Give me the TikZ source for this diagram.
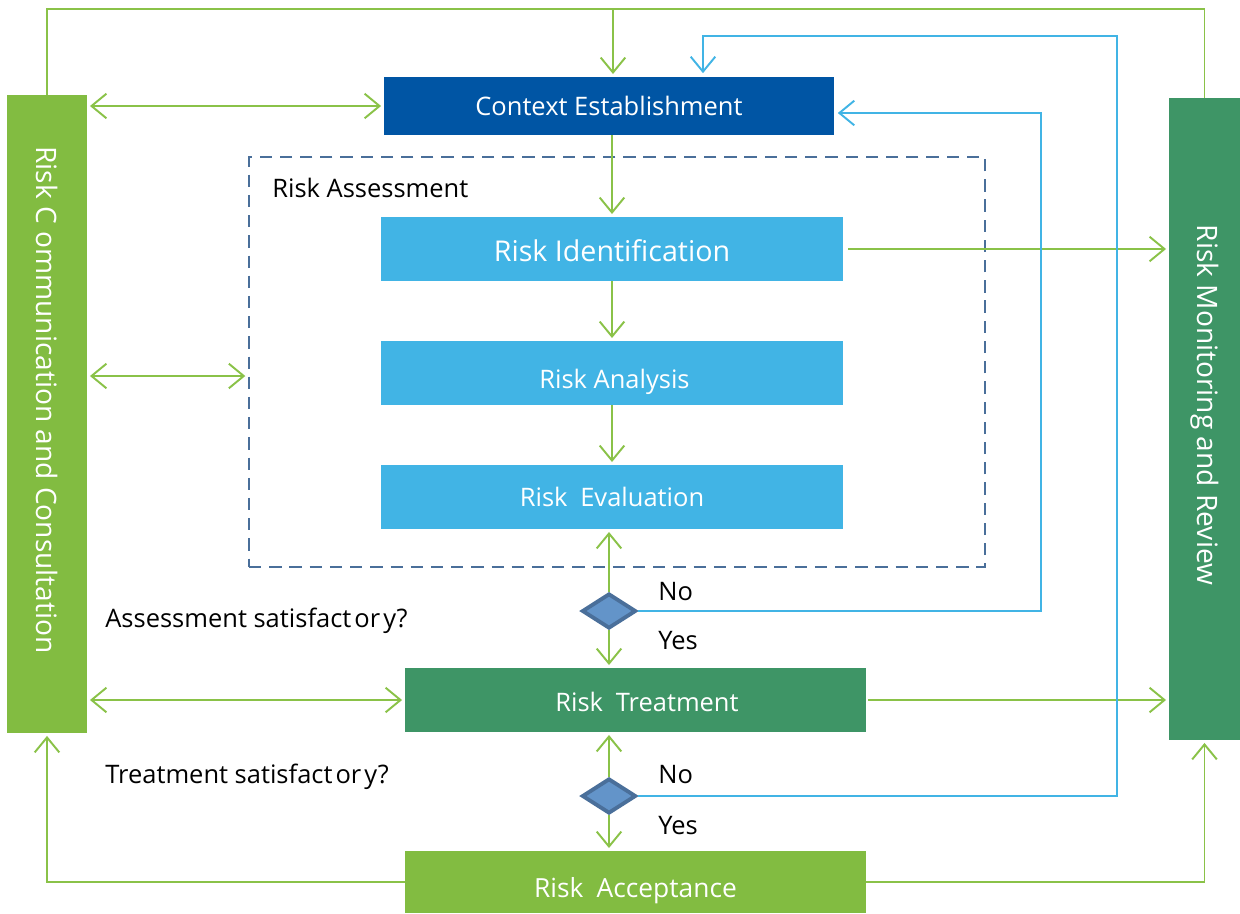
\documentclass[tikz,border=0pt]{standalone}
\usepackage{fontspec}
\setmainfont{Open Sans}
\usepackage{tikz}
\usepackage{xcolor}
\usetikzlibrary{arrows.meta,shapes.geometric}

\definecolor{riskgreen}{HTML}{82BC41}
\definecolor{linegreen}{HTML}{8AC248}
\definecolor{darkgreen}{HTML}{3E9566}
\definecolor{ctxblue}{HTML}{0055A4}
\definecolor{lightblue}{HTML}{41B4E5}
\definecolor{dashblue}{HTML}{4A6F9A}
\definecolor{decfill}{HTML}{6394C9}

\begin{document}
\begin{tikzpicture}[x=0.02cm,y=-0.02cm,
    box/.style={inner sep=0pt,text=white,text depth=0pt,text height=10.35pt,font=\fontsize{14.5}{17}\selectfont},
    sidetext/.style={inner sep=0pt,text=white,rotate=-90,font=\fontsize{16}{19}\selectfont},
    note/.style={anchor=west,inner sep=0pt,font=\fontsize{14.5}{17}\selectfont},
    wire/.style={linegreen,line width=1.1pt},
    flow/.style={wire,shorten >=1.5pt,-{Straight Barb[length=8.5pt,width=14pt]}},
    both/.style={flow,shorten <=1.5pt,{Straight Barb[length=8.5pt,width=14pt]}-{Straight Barb[length=8.5pt,width=14pt]}},
    back/.style={lightblue,line width=1.1pt,shorten >=2pt,-{Straight Barb[length=8.5pt,width=14pt]}},
    decision/.style={diamond,draw=dashblue,fill=decfill,line width=2.2pt,inner sep=0pt,minimum width=1.08cm,minimum height=0.7cm}]
        \useasboundingbox (0,0) rectangle (1240,913);
        % side bars
        \node (comm) at (47,414) [box,fill=riskgreen,minimum width=1.6cm,minimum height=12.76cm] {};
        \node (commtext) at (47,400) [sidetext] {Risk C ommunication and Consultation};
        \node (monitor) at (1204.5,419) [box,fill=darkgreen,minimum width=1.42cm,minimum height=12.84cm] {};
        \node (montext) at (1205,405) [sidetext] {Risk Monitoring and Review};
        % assessment frame
        \node (assess) at (617,362) [draw=dashblue,line width=1.3pt,dash pattern=on 7pt off 4.5pt,minimum width=14.72cm,minimum height=8.2cm] {};
        \node (assesstext) at (272,188) [note] {Risk Assessment};
        % process boxes
        \node (context) at (609,106) [box,fill=ctxblue,minimum width=9cm,minimum height=1.16cm] {Context Establishment};
        \node (ident) at (612,249) [box,fill=lightblue,minimum width=9.24cm,minimum height=1.28cm,font=\fontsize{16.3}{19}\selectfont,text height=13.8pt] {Risk Identification};
        \node (analysis) at (612,373) [box,fill=lightblue,minimum width=9.24cm,minimum height=1.28cm,text height=17.75pt] {\hspace{0.1cm}Risk Analysis};
        \node (evaluation) at (612,497) [box,fill=lightblue,minimum width=9.24cm,minimum height=1.28cm] {Risk\hspace{0.5em}Evaluation};
        \node (treatment) at (635.5,700) [box,fill=darkgreen,minimum width=9.22cm,minimum height=1.28cm,text height=13.15pt] {\hspace{0.46cm}Risk\hspace{0.5em}Treatment};
        \node (acceptance) at (635.5,882) [box,fill=riskgreen,minimum width=9.22cm,minimum height=1.24cm,font=\fontsize{15}{18}\selectfont,text height=18.1pt] {Risk\hspace{0.5em}Acceptance\hspace{0.1cm}};
        % decisions
        \node (d1) at (609,611) [decision] {};
        \node (d2) at (609,796) [decision] {};
        \node (no1) at (658,592) [note] {No};
        \node (yes1) at (658,641) [note] {Yes};
        \node (no2) at (658,775) [note] {No};
        \node (yes2) at (658,826) [note] {Yes};
        \node (q1) at (105,621) [note] {Assessment satisfact\hspace{0.12em}or\hspace{0.12em}y?};
        \node (q2) at (105,777) [note] {Treatment satisfact\hspace{0.12em}or\hspace{0.12em}y?};
        % top loop
        \coordinate (top) at (613,9);
        \draw [wire] (comm.north) |- (top) -| (monitor.north);
        \draw [flow] (top) -- (top |- context.north);
        % main chain
        \draw [flow] (ident.north |- context.south) -- (ident.north);
        \draw [flow] (ident.south) -- (analysis.north);
        \draw [flow] (analysis.south) -- (evaluation.north);
        \draw [flow] (d1.north) -- (d1.north |- evaluation.south);
        \draw [flow] (d1.south) -- (d1.south |- treatment.north);
        \draw [flow] (d2.north) -- (d2.north |- treatment.south);
        \draw [flow] (d2.south) -- (d2.south |- acceptance.north);
        % communication
        \coordinate (assin) at ([yshift=-0.28cm]assess.west);
        \draw [both] (comm.east |- context.west) -- (context.west);
        \draw [both] (comm.east |- assin) -- (assin);
        \draw [both] (comm.east |- treatment.west) -- (treatment.west);
        \draw [flow] (acceptance.west) -| (comm.south);
        % monitoring
        \draw [flow] ([xshift=0.1cm]ident.east) -- (ident.east -| monitor.west);
        \draw [flow] ([xshift=0.04cm]treatment.east) -- (treatment.east -| monitor.west);
        \draw [flow] (acceptance.east) -| (monitor.south);
        % feedback loops
        \coordinate (loopa) at (1041,113);
        \coordinate (loopb) at (1117,36);
        \draw [back] (d1.east) -| (loopa) -- (loopa -| context.east);
        \draw [back] (d2.east) -| (loopb) -| ([xshift=1.88cm]context.north);
\end{tikzpicture}
\end{document}
